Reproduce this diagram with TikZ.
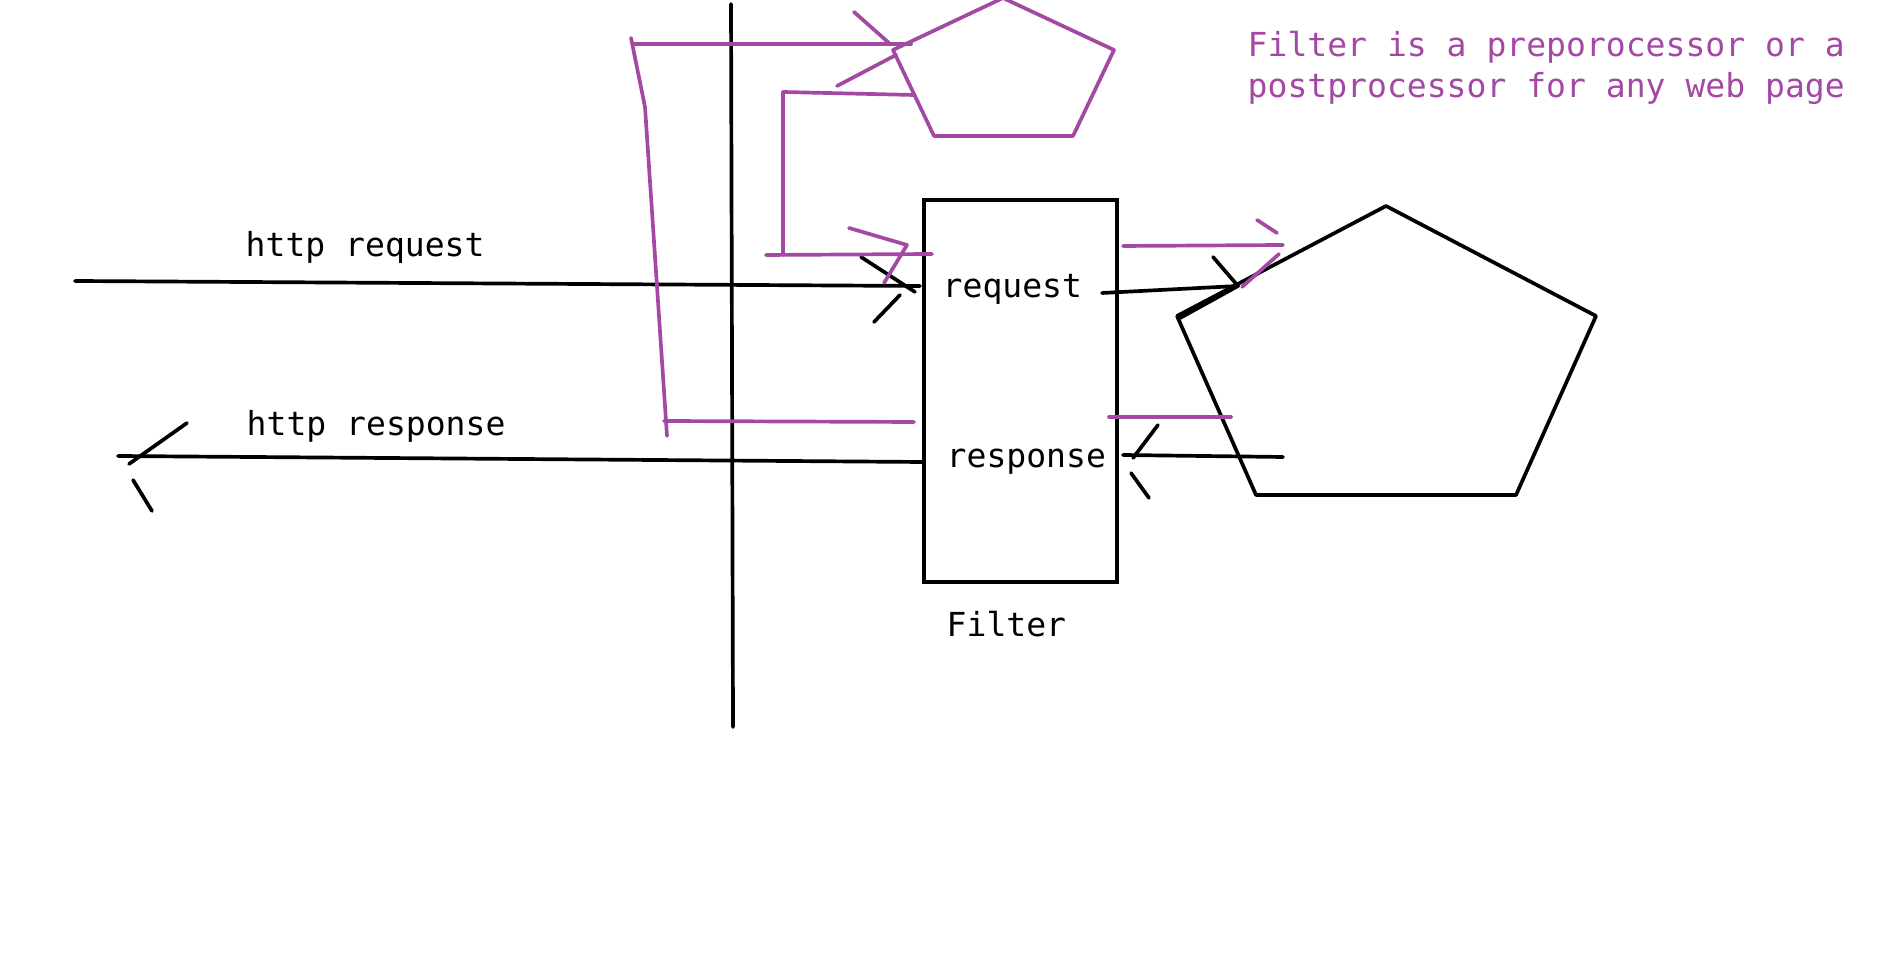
\documentclass[tikz,border=0pt]{standalone}
\usepackage{fontspec}
\setmonofont{DejaVu Sans Mono}
\definecolor{paintPurple}{HTML}{A349A4}
\tikzset{
  wire/.style={draw=black, line width=1.05pt, line cap=round, line join=round},
  tap/.style={draw=paintPurple, line width=1.05pt, line cap=round, line join=round},
  filterbox/.style={draw=black, line width=1.3pt, minimum width=1.93cm,
              minimum height=3.82cm, inner sep=0pt},
  lbl/.style={font=\ttfamily\fontsize{9.4}{11.8}\selectfont, inner sep=0pt, anchor=base west},
  note/.style={lbl, text=paintPurple},
}

\begin{document}
\begin{tikzpicture}[x=0.01cm, y=-0.01cm]
  \useasboundingbox (0,0) rectangle (1901,977);
  % filter box and texts
  \node[filterbox] (filter) at (1020.5,391) {};
  \node[lbl] (reqLbl) at (942,298) {request};
  \node[lbl] (respLbl) at (946,468) {response};
  \node[lbl] (filterLbl) at (946,637) {Filter};
  \node[lbl] (httpReq) at (245,257) {http request};
  \node[lbl] (httpResp) at (246,436) {http response};
  \node[note] (noteA) at (1247,57) {Filter is a preporocessor or a};
  \node[note] (noteB) at (1247,98) {postprocessor for any web page};

  % web page (black) and the extra page (purple)
  \coordinate (pgT) at (1386,206); \coordinate (pgR) at (1596,316);
  \coordinate (pgBR) at (1516,495); \coordinate (pgBL) at (1256,495);
  \coordinate (pgL) at (1177,316);
  \draw[wire] (pgT) -- (pgR) -- (pgBR) -- (pgBL) -- (pgL) -- cycle;
  \coordinate (ppT) at (1003,-2); \coordinate (ppR) at (1114,50);
  \coordinate (ppBR) at (1073,136); \coordinate (ppBL) at (934,136);
  \coordinate (ppL) at (893,50);
  \draw[tap] (ppT) -- (ppR) -- (ppBR) -- (ppBL) -- (ppL) -- cycle;

  % container wall
  \coordinate (wallTop) at (731,4);
  \coordinate (wallBot) at (733,727);
  \draw[wire] (wallTop) -- (wallBot);

  % http request / response
  \coordinate (reqFrom) at (75,281);
  \coordinate (reqTip) at (920,286);
  \draw[wire] (reqFrom) -- (reqTip);
  \draw[wire] (reqTip) ++(-59,-29) -- ++(54,35) (reqTip) ++(-20,9) -- ++(-26,27);
  \coordinate (respFrom) at (922,462);
  \coordinate (respTip) at (118,456);
  \draw[wire] (respFrom) -- (respTip);
  \draw[wire] (respTip) ++(69,-33) -- ++(-58,41) (respTip) ++(15,24) -- ++(19,31);

  % filter to web page
  \coordinate (outFrom) at (1102,293);
  \coordinate (outTip) at (1238,286);
  \draw[wire] (outFrom) -- (outTip);
  \draw[wire] (outTip) ++(-25,-29) -- ++(25,29) -- ++(-58,32);
  \coordinate (backFrom) at (1283,457);
  \coordinate (backTip) at (1123,455);
  \draw[wire] (backFrom) -- (backTip);
  \draw[wire] (backTip) ++(35,-30) -- ++(-25,33) (backTip) ++(8,18) -- ++(18,25);

  % purple detours
  \coordinate (tapResp) at (914,422);
  \coordinate (tapTip) at (911,44);
  \draw[tap] (tapResp) -- (664,421);
  \draw[tap] (667,436) -- (645,107) -- (631,38);
  \draw[tap] (633,44) -- (tapTip);
  \draw[tap] (tapTip) ++(-57,-32) -- ++(35,31) (tapTip) ++(-74,42) -- ++(59,-31);
  \coordinate (loopFrom) at (914,95);
  \coordinate (loopTip) at (932,254);
  \draw[tap] (loopFrom) -- (783,92) -- (783,255);
  \draw[tap] (766,255) -- (loopTip);
  \draw[tap] (loopTip) ++(-83,-26) -- ++(58,17) -- ++(-23,38);
  \coordinate (tapOutFrom) at (1123,246);
  \coordinate (tapOutTip) at (1283,245);
  \draw[tap] (tapOutFrom) -- (tapOutTip);
  \draw[tap] (tapOutTip) ++(-26,-25) -- ++(20,13) (tapOutTip) ++(-4,9) -- ++(-37,33);
  \coordinate (tapBackFrom) at (1109,417);
  \coordinate (tapBackTo) at (1231,417);
  \draw[tap] (tapBackFrom) -- (tapBackTo);
\end{tikzpicture}
\end{document}
